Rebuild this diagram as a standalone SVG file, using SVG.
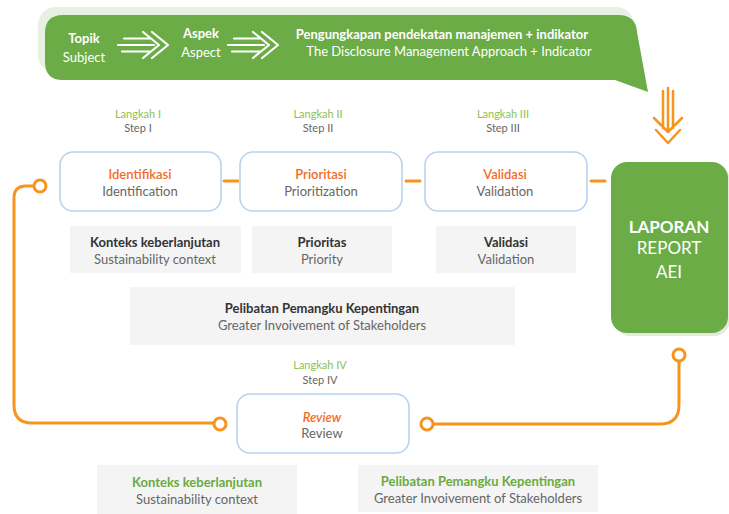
<svg xmlns="http://www.w3.org/2000/svg" width="729" height="514" viewBox="0 0 729 514">
<style>
text{font-family:Lato,"Open Sans","Liberation Sans",sans-serif;text-anchor:middle}
.w{fill:#fff}
.wb{fill:#fff;font-weight:bold}
.lang{fill:#8cc152;font-size:11px}
.step{fill:#666;font-size:11px}
.ttl{fill:#f26b28;font-size:13px;font-weight:600}
.sub{fill:#666;font-size:13px}
.dk{fill:#333;font-size:13px;font-weight:bold}
.gt{fill:#6aab3f;font-size:13px;font-weight:bold}
.box{fill:#fff;stroke:#b9d3ee;stroke-width:1.6}
.gray{fill:#f4f4f4}
.ln{fill:none;stroke:#f7941d;stroke-width:3;stroke-linecap:round;stroke-linejoin:round}
.dot{fill:#fff;stroke:#f7941d;stroke-width:3}
.arr{fill:none;stroke:#fff;stroke-width:2.2;stroke-linecap:round;stroke-linejoin:round}
</style>
<defs>
<g id="tri">
<path class="arr" d="M6,-6.5H33M0,0H36M4,6.5H33M25,-13L41,0L25,13M34,-13L50,0L34,13"/>
</g>
</defs>

<g id="banner">
<rect x="38" y="7" width="596" height="66" rx="18" fill="#e8f0e3"/>
<path d="M63,15H618Q636,15 637,32L648,92L615,80H63Q45,80 45,62V33Q45,15 63,15Z" fill="#6cac47"/>
<text class="wb" x="84" y="42.5" font-size="13">Topik</text>
<text class="w" x="84" y="61.5" font-size="13">Subject</text>
<use href="#tri" x="118" y="45"/>
<text class="wb" x="201" y="37.5" font-size="13">Aspek</text>
<text class="w" x="201" y="56.5" font-size="13">Aspect</text>
<use href="#tri" x="228" y="45"/>
<text class="wb" x="442" y="38.5" font-size="13">Pengungkapan pendekatan manajemen + indikator</text>
<text class="w" x="449" y="55.5" font-size="13">The Disclosure Management Approach + Indicator</text>
</g>

<g id="down-arrow">
<path d="M663,91V128M668,88V132M673,91V128M654,118L668,132L682,118M656,130L668,143L680,130" fill="none" stroke="#f7941d" stroke-width="2.5" stroke-linecap="round" stroke-linejoin="round"/>
</g>

<g id="connectors">
<path class="ln" d="M224,181H238M406,181H420M591,181H605"/>
<path class="ln" d="M34,186H26Q14,186 14,198V405Q14,423 32,423H213"/>
<path class="ln" d="M433,424H660Q679,424 679,405V362"/>
<circle class="dot" cx="40" cy="186" r="6"/>
<circle class="dot" cx="220" cy="424" r="6"/>
<circle class="dot" cx="427" cy="424" r="6"/>
<circle class="dot" cx="679" cy="355" r="6"/>
</g>

<g id="step1">
<text class="lang" x="138" y="118">Langkah I</text>
<text class="step" x="138" y="132">Step I</text>
<rect class="box" x="60" y="152" width="161" height="59" rx="13"/>
<text class="ttl" x="140" y="178.5">Identifikasi</text>
<text class="sub" x="140" y="195.5">Identification</text>
</g>
<g id="step2">
<text class="lang" x="318" y="118">Langkah II</text>
<text class="step" x="318" y="132">Step II</text>
<rect class="box" x="240" y="152" width="162" height="59" rx="13"/>
<text class="ttl" x="321" y="178.5">Prioritasi</text>
<text class="sub" x="321" y="195.5">Prioritization</text>
</g>
<g id="step3">
<text class="lang" x="503" y="118">Langkah III</text>
<text class="step" x="503" y="132">Step III</text>
<rect class="box" x="425" y="152" width="162" height="59" rx="13"/>
<text class="ttl" x="505" y="178.5">Validasi</text>
<text class="sub" x="505" y="195.5">Validation</text>
</g>

<g id="laporan">
<rect x="614" y="165" width="116" height="171" rx="16" fill="#e2ebdd"/>
<rect x="611" y="162" width="117" height="171" rx="16" fill="#6cac47"/>
<text class="wb" x="669" y="233" font-size="17">LAPORAN</text>
<text class="w" x="669" y="254" font-size="17">REPORT</text>
<text class="w" x="669" y="278" font-size="17">AEI</text>
</g>

<g id="konteks">
<rect class="gray" x="70" y="226" width="171" height="47"/>
<text class="dk" x="155" y="246.5">Konteks keberlanjutan</text>
<text class="sub" x="155" y="263.5">Sustainability context</text>
</g>
<g id="prioritas">
<rect class="gray" x="252" y="226" width="140" height="47"/>
<text class="dk" x="322" y="246.5">Prioritas</text>
<text class="sub" x="322" y="263.5">Priority</text>
</g>
<g id="validasi">
<rect class="gray" x="436" y="226" width="140" height="47"/>
<text class="dk" x="506" y="246.5">Validasi</text>
<text class="sub" x="506" y="263.5">Validation</text>
</g>
<g id="pelibatan">
<rect class="gray" x="130" y="287" width="385" height="58"/>
<text class="dk" x="322" y="312.5">Pelibatan Pemangku Kepentingan</text>
<text class="sub" x="322" y="329.5">Greater Invoivement of Stakeholders</text>
</g>

<g id="step4">
<text class="lang" x="320" y="369">Langkah IV</text>
<text class="step" x="320" y="384">Step IV</text>
<rect class="box" x="237" y="394" width="172" height="59" rx="13"/>
<text class="ttl" x="322" y="421.5" font-style="italic">Review</text>
<text class="sub" x="322" y="437.5">Review</text>
</g>

<g id="konteks2">
<rect class="gray" x="97" y="465" width="200" height="49"/>
<text class="gt" x="197" y="486.5">Konteks keberlanjutan</text>
<text class="sub" x="197" y="503.5">Sustainability context</text>
</g>
<g id="pelibatan2">
<rect class="gray" x="358" y="465" width="240" height="47"/>
<text class="gt" x="478" y="485.5">Pelibatan Pemangku Kepentingan</text>
<text class="sub" x="478" y="502.5">Greater Invoivement of Stakeholders</text>
</g>
</svg>
